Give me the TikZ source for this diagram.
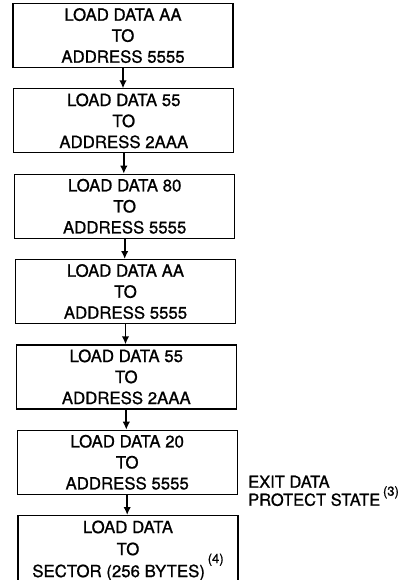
\documentclass[tikz,border=0pt]{standalone}
\usepackage{fontspec}
\setmainfont{TeX Gyre Heros}[FakeBold=0.9]
\usetikzlibrary{arrows.meta}
\tikzset{
  stepbox/.style={draw, line width=1.2pt, minimum width=220pt, minimum height=64pt,
    inner sep=0pt, align=center, anchor=north, font=\fontsize{16.8}{21}\selectfont},
  flowarrow/.style={line width=1.9pt, -{Latex[length=8pt,width=7.5pt]}},
  note/.style={inner sep=0pt, align=left, anchor=north west, font=\fontsize{16.5}{18}\selectfont}
}
\newcommand{\supmark}[2]{\raisebox{#1}[0pt][0pt]{\fontsize{13}{13}\selectfont #2}}
\begin{document}
\begin{tikzpicture}[x=1pt,y=-1pt]
\useasboundingbox (0,0) rectangle (413,580);
\node[stepbox] (b1) at (123,3)     {LOAD DATA AA\\TO\\ADDRESS 5555};
\node[stepbox] (b2) at (123.8,88.3) {LOAD DATA 55\\TO\\ADDRESS 2AAA};
\node[stepbox] (b3) at (124.7,173.7) {LOAD DATA 80\\TO\\ADDRESS 5555};
\node[stepbox] (b4) at (125.5,259) {LOAD DATA AA\\TO\\ADDRESS 5555};
\node[stepbox] (b5) at (126.3,344.3) {LOAD DATA 55\\TO\\ADDRESS 2AAA};
\node[stepbox] (b6) at (127.2,429.7) {LOAD DATA 20\\TO\\ADDRESS 5555};
\node[stepbox, font=\fontsize{16.8}{22}\selectfont] (b7) at (128,515) {\rule{0pt}{17.5pt}LOAD DATA\\TO\\SECTOR (256 BYTES)\,\supmark{14pt}{(4)}};
\node[note] (exit) at (248,475.5) {EXIT DATA\\PROTECT STATE\,\supmark{10pt}{(3)}};
\foreach \a/\b in {b1/b2,b2/b3,b3/b4,b4/b5,b5/b6,b6/b7}
  \draw[flowarrow] (\a.south) -- (\a.south |- \b.north);
\end{tikzpicture}
\end{document}
